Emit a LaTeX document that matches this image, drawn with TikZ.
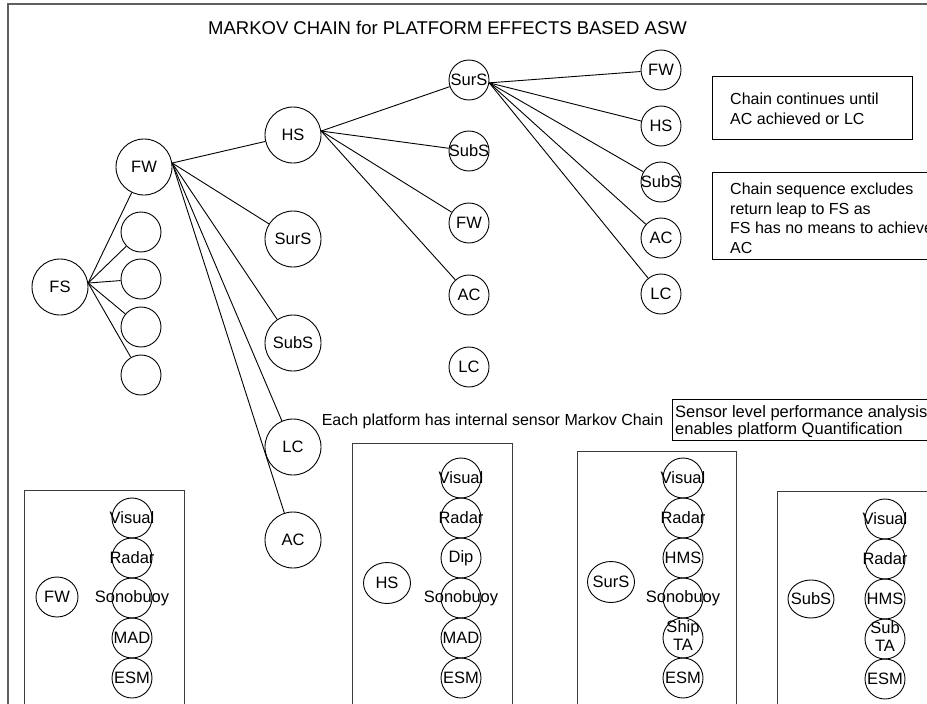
\documentclass[tikz,border=0pt]{standalone}
\usepackage{fontspec}
\setmainfont{Liberation Sans}
\usetikzlibrary{shapes.geometric}
% zero-width label so that a circle keeps its set size even when the word is longer
\newcommand{\olab}[1]{\makebox[0pt]{#1}}
\definecolor{framegray}{RGB}{95,95,95}
\definecolor{boxgray}{RGB}{60,60,60}

\begin{document}
\begin{tikzpicture}[x=1pt,y=-1pt,
  lbl/.style={font=\fontsize{16.5}{18}\selectfont},
  bigc/.style={circle,draw,line width=0.9pt,inner sep=0pt,minimum size=56pt,lbl},
  smc/.style={circle,draw,line width=0.9pt,inner sep=0pt,minimum size=40pt,lbl},
  plat/.style={ellipse,draw,line width=0.9pt,inner sep=0pt,lbl},
  link/.style={line width=0.9pt},
  notebox/.style={draw=black,line width=1pt},
  notetext/.style={anchor=north west,inner sep=0pt,align=left},
  sensbox/.style={draw=boxgray,line width=1pt}]

\clip (0,0) rectangle (927,704);

% outer frame (only top and left edges fall inside the page)
\draw[framegray,line width=1.6pt] (8,712) -- (8,4) -- (935,4);

% title
\node[font=\fontsize{18.5}{22}\selectfont] (title) at (447.5,28)
  {MARKOV CHAIN for PLATFORM EFFECTS BASED ASW};

% ---------- chain: level 0 and 1 ----------
\node[bigc] (fs) at (60,287) {\olab{FS}};
\node[bigc] (fw1) at (144,167) {\olab{FW}};
\node[smc] (e1) at (141,232) {};
\node[smc] (e2) at (141,279) {};
\node[smc] (e3) at (141,327) {};
\node[smc] (e4) at (141,375) {};

\foreach \t in {fw1,e1,e2,e3,e4} \draw[link] (fs.8) -- (\t);

% ---------- level 2 ----------
\node[bigc] (hs2) at (293,135) {\olab{HS}};
\node[bigc] (surs2) at (293,239) {\olab{SurS}};
\node[bigc] (subs2) at (293,343) {\olab{SubS}};
\node[bigc] (lc2) at (293,447) {\olab{LC}};
\node[bigc] (ac2) at (293,540) {\olab{AC}};

\foreach \t in {hs2,surs2,subs2,lc2,ac2} \draw[link] (fw1.8) -- (\t);

% ---------- level 3 ----------
\node[smc] (surs3) at (469,80) {\olab{SurS}};
\node[smc] (subs3) at (469,151) {\olab{SubS}};
\node[smc] (fw3) at (469,223) {\olab{FW}};
\node[smc] (ac3) at (469,295) {\olab{AC}};
\node[smc] (lc3) at (469,367) {\olab{LC}};

\foreach \t in {surs3,subs3,fw3,ac3} \draw[link] (hs2.8) -- (\t);

% ---------- level 4 ----------
\node[smc] (fw4) at (661,70) {\olab{FW}};
\node[smc] (hs4) at (661,126) {\olab{HS}};
\node[smc] (subs4) at (661,182) {\olab{SubS}};
\node[smc] (ac4) at (661,238) {\olab{AC}};
\node[smc] (lc4) at (661,294) {\olab{LC}};

\foreach \t in {fw4,hs4,subs4,ac4,lc4} \draw[link] (surs3.-8) -- (\t);

% ---------- notes ----------
\draw[notebox] (712,76) rectangle (912,139);
\node[notetext,font=\fontsize{16}{19.5}\selectfont] (note1) at (730,93)
  {Chain continues until\\AC achieved or LC};

\draw[notebox] (940,172) -- (712,172) -- (712,259) -- (940,259);
\node[notetext,font=\fontsize{16}{19.5}\selectfont] (note2) at (730,183)
  {Chain sequence excludes\\return leap to FS as\\FS has no means to achieve\\AC};

\node[font=\fontsize{16}{19}\selectfont] (each) at (492.5,421)
  {Each platform has internal sensor Markov Chain};

\draw[notebox] (940,399) -- (672,399) -- (672,440) -- (940,440);
\node[notetext,font=\fontsize{16.5}{17.5}\selectfont] (note3) at (675,405)
  {Sensor level performance analysis\\enables platform Quantification};

% ---------- platform sensor chains ----------
% fixed wing
\draw[sensbox] (24,712) -- (24,490) -- (184,490) -- (184,712);
\node[plat,minimum width=42pt,minimum height=40pt] (pfw) at (57,597) {\olab{FW}};
\node[smc] (fwa) at (132,518) {\olab{Visual}};
\node[smc] (fwb) at (132,558) {\olab{Radar}};
\node[smc] (fwc) at (132,598) {\olab{Sonobuoy}};
\node[smc] (fwd) at (132,638) {\olab{MAD}};
\node[smc] (fwe) at (132,678) {\olab{ESM}};

% helicopter
\draw[sensbox] (352,712) -- (352,443) -- (512,443) -- (512,712);
\node[plat,minimum width=47pt,minimum height=41pt] (phs) at (387,583) {\olab{HS}};
\node[smc] (hsa) at (461,478) {\olab{Visual}};
\node[smc] (hsb) at (461,518) {\olab{Radar}};
\node[smc] (hsc) at (461,558) {\olab{Dip}};
\node[smc] (hsd) at (461,598) {\olab{Sonobuoy}};
\node[smc] (hse) at (461,638) {\olab{MAD}};
\node[smc] (hsf) at (461,678) {\olab{ESM}};

% surface ship
\draw[sensbox] (577,712) -- (577,451) -- (736,451) -- (736,712);
\node[plat,minimum width=47pt,minimum height=41pt] (psurs) at (611,582) {\olab{SurS}};
\node[smc] (ssa) at (683,478) {\olab{Visual}};
\node[smc] (ssb) at (683,518) {\olab{Radar}};
\node[smc] (ssc) at (683,558) {\olab{HMS}};
\node[smc] (ssd) at (683,598) {\olab{Sonobuoy}};
\node[smc] (sse) at (683,638) {\olab{\begin{tabular}{@{}c@{}}Ship\\TA\end{tabular}}};
\node[smc] (ssf) at (683,678) {\olab{ESM}};

% submarine
\draw[sensbox] (777,712) -- (777,491) -- (940,491);
\node[plat,minimum width=46pt,minimum height=38pt] (psubs) at (811,599) {\olab{SubS}};
\node[smc] (sba) at (885,519) {\olab{Visual}};
\node[smc] (sbb) at (885,559) {\olab{Radar}};
\node[smc] (sbc) at (885,599) {\olab{HMS}};
\node[smc] (sbd) at (885,639) {\olab{\begin{tabular}{@{}c@{}}Sub\\TA\end{tabular}}};
\node[smc] (sbe) at (885,679) {\olab{ESM}};

\end{tikzpicture}
\end{document}
